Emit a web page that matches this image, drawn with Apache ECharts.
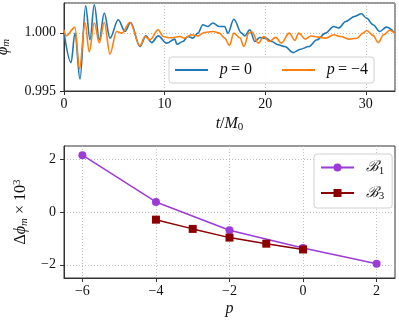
<!DOCTYPE html>
<html><head><meta charset="utf-8">
<script src="https://cdn.jsdelivr.net/npm/echarts@6/dist/echarts.min.js"></script>
<style>html,body{margin:0;padding:0;background:#fff}#c{width:399px;height:322px}</style>
</head><body><div id="c"></div>
<script>
// Top panel: phi_m vs t/M0
const p0T = [0,0.70,1.09,1.59,2.15,2.58,3.01,3.51,4.00,4.57,5.39,6.06,6.62,7.55,8.14,8.71,9.36,10.20,11.02,11.22,11.82,12.31,12.81,13.31,13.80,14.30,14.80,15.46,15.96,16.29,16.88,17.65,17.97,18.47,18.97,19.46,20.06,20.63,21.28,21.95,22.77,23.51,24.33,25.15,25.99,26.81,27.31,28.00,28.90,29.56,30.06,30.72,31.38,32.05,32.87];
const p0V = [1.00006,0.99744,0.99997,0.99603,1.00233,0.99940,1.00241,0.99940,1.00170,0.99954,1.00112,1.00011,1.00089,0.99882,0.99974,0.99916,0.99974,0.99911,0.99946,0.99901,0.99925,0.99968,0.99954,0.99997,1.00069,1.00054,1.00084,1.00054,1.00054,0.99997,1.00116,0.99997,0.99974,1.00026,0.99925,0.99959,0.99954,0.99925,0.99897,0.99882,0.99830,0.99859,0.99882,0.99940,0.99997,1.00054,1.00041,1.00097,1.00141,1.00164,1.00127,1.00069,1.00011,1.00049,0.99997];
const p4T = [0,0.20,1.09,1.54,2.09,2.51,3.01,3.51,4.00,4.57,5.23,5.73,6.55,7.55,8.04,8.54,9.36,9.86,10.53,11.52,11.99,12.64,13.31,13.97,14.80,15.46,15.96,16.45,16.88,17.48,17.89,18.37,18.67,19.31,19.86,20.41,21.05,21.60,22.39,22.94,23.34,23.98,24.53,25.32,26.02,26.81,27.51,28.30,29.10,29.72,30.09,30.72,31.23,31.78,32.37,32.87];
const p4V = [1.00026,0.99974,1.00047,0.99690,1.00089,0.99836,1.00086,0.99914,1.00089,0.99819,1.00011,0.99997,1.00089,0.99888,0.99968,0.99940,1.00026,0.99968,0.99957,0.99968,0.99954,0.99983,0.99974,1.00003,1.00011,0.99997,0.99954,0.99892,0.99997,0.99957,0.99882,0.99997,1.00009,0.99911,0.99968,0.99925,0.99961,0.99911,0.99997,0.99935,0.99997,0.99946,0.99972,0.99963,0.99954,0.99983,0.99968,0.99946,0.99953,0.99997,1.00020,0.99978,0.99916,0.99983,1.00022,0.99997];
const topXTicks = [0,10,20,30];
const topYTicks = [0.995,1.000];

// Bottom panel: delta phi_m x 10^3 vs p
const b1P = [-6,-4,-2,0,2];
const b1V = [2.15,0.38,-0.69,-1.36,-1.96];
const b3P = [-4,-3,-2,-1,0];
const b3V = [-0.29,-0.64,-0.97,-1.20,-1.42];
const botXTicks = [-6,-4,-2,0,2];
const botYTicks = [-2,0,2];

const zip = (a,b) => a.map((v,i)=>[v,b[i]]);
const SERIF = "'Liberation Serif','DejaVu Serif',serif";
const MINUS = s => String(s).replace('-', '\u2212');
const grid = {color:'#b0b0b0', type:[1,2], width:0.8};
const rich = {
  i:{fontFamily:SERIF,fontStyle:'italic',fontSize:16,color:'#111'},
  n:{fontFamily:SERIF,fontSize:16,color:'#111'},
  s:{fontFamily:SERIF,fontStyle:'italic',fontSize:11,color:'#111',padding:[7,0,0,0]},
  s0:{fontFamily:SERIF,fontSize:11,color:'#111',padding:[7,0,0,0]},
  sup:{fontFamily:SERIF,fontSize:11,color:'#111',padding:[0,0,7,0]},
  b:{fontFamily:"'DejaVu Serif',serif",fontStyle:'italic',fontSize:15,color:'#111'}
};
const axisLine = {show:true,onZero:false,lineStyle:{color:'#333',width:1}};
const axisTick = {show:true,inside:false,length:4,lineStyle:{color:'#333'}};
const axisLabel = {fontFamily:SERIF,fontSize:14,color:'#111'};
const splitLine = {show:true,lineStyle:grid};

const chart = echarts.init(document.getElementById('c'), null, {renderer:'canvas'});
chart.setOption({
  animation:false,
  grid:[
    {left:64,right:4,top:3,height:88,show:true,borderColor:'#333',borderWidth:1,containLabel:false,outerBoundsMode:'none'},
    {left:64,right:4,top:146,bottom:44,show:true,borderColor:'#333',borderWidth:1,containLabel:false,outerBoundsMode:'none'}
  ],
  xAxis:[
    {gridIndex:0,type:'value',min:0,max:32.9,interval:10,
     axisLine,axisTick,splitLine,
     axisLabel:Object.assign({},axisLabel,{margin:6,showMaxLabel:false,formatter:v=>topXTicks.includes(v)?String(v):''}),
     name:'{i|t}{n|/}{i|M}{s0|0}',nameLocation:'middle',nameGap:24,nameTextStyle:{rich:rich}},
    {gridIndex:1,type:'value',min:-6.5,max:2.5,
     axisLine,
     axisTick:Object.assign({},axisTick,{customValues:botXTicks}),
     splitLine,
     axisLabel:Object.assign({},axisLabel,{margin:6,customValues:botXTicks,formatter:v=>MINUS(v)}),
     name:'{i|p}',nameLocation:'middle',nameGap:23,nameTextStyle:{rich:rich}}
  ],
  yAxis:[
    {gridIndex:0,type:'value',min:0.995,max:1.00256,interval:0.005,
     axisLine,axisTick,splitLine,
     axisLabel:Object.assign({},axisLabel,{margin:8,showMaxLabel:false,formatter:v=>v.toFixed(3)}),
     name:'{i|ϕ}{s|m}',nameLocation:'middle',nameGap:52,nameRotate:90,nameTextStyle:{rich:rich}},
    {gridIndex:1,type:'value',min:-2.5,max:2.5,
     axisLine,
     axisTick:Object.assign({},axisTick,{customValues:botYTicks}),
     splitLine,
     axisLabel:Object.assign({},axisLabel,{margin:8,customValues:botYTicks,formatter:v=>MINUS(v)}),
     name:'{n|Δ}{i|ϕ}{s|m}{n| × 10}{sup|3}',nameLocation:'middle',nameGap:34,nameRotate:90,nameTextStyle:{rich:rich}}
  ],
  legend:[
    {data:['p0','p4'],left:169,top:57,orient:'horizontal',icon:'rect',itemWidth:33,itemHeight:2,itemGap:30,
     padding:[5,6,5,6],backgroundColor:'rgba(255,255,255,0.85)',borderColor:'#d0d0d0',borderWidth:1,borderRadius:3,
     formatter:n=>n==='p0'?'  {i|p} {n|= 0}':'  {i|p} {n|= \u22124}',
     textStyle:{rich:rich}},
    {data:['b1','b3'],left:314,top:154,orient:'vertical',itemWidth:33,itemHeight:10,itemGap:9,
     padding:[6,8,6,6],backgroundColor:'rgba(255,255,255,0.85)',borderColor:'#d0d0d0',borderWidth:1,borderRadius:3,
     formatter:n=>n==='b1'?'  {b|ℬ}{s0|1}':'  {b|ℬ}{s0|3}',
     textStyle:{rich:rich}}
  ],
  series:[
    {name:'p0',type:'line',xAxisIndex:0,yAxisIndex:0,data:zip(p0T,p0V),smooth:0.35,smoothMonotone:'x',showSymbol:false,symbol:'none',
     lineStyle:{color:'#1f77b4',width:1.6},itemStyle:{color:'#1f77b4'}},
    {name:'p4',type:'line',xAxisIndex:0,yAxisIndex:0,data:zip(p4T,p4V),smooth:0.35,smoothMonotone:'x',showSymbol:false,symbol:'none',
     lineStyle:{color:'#ff7f0e',width:1.6},itemStyle:{color:'#ff7f0e'}},
    {name:'b1',type:'line',xAxisIndex:1,yAxisIndex:1,data:zip(b1P,b1V),symbol:'circle',symbolSize:8,
     lineStyle:{color:'#9d3bd6',width:1.5},itemStyle:{color:'#9d3bd6'}},
    {name:'b3',type:'line',xAxisIndex:1,yAxisIndex:1,data:zip(b3P,b3V),symbol:'rect',symbolSize:8,
     lineStyle:{color:'#8b0000',width:1.5},itemStyle:{color:'#8b0000'}}
  ]
});
</script></body></html>
